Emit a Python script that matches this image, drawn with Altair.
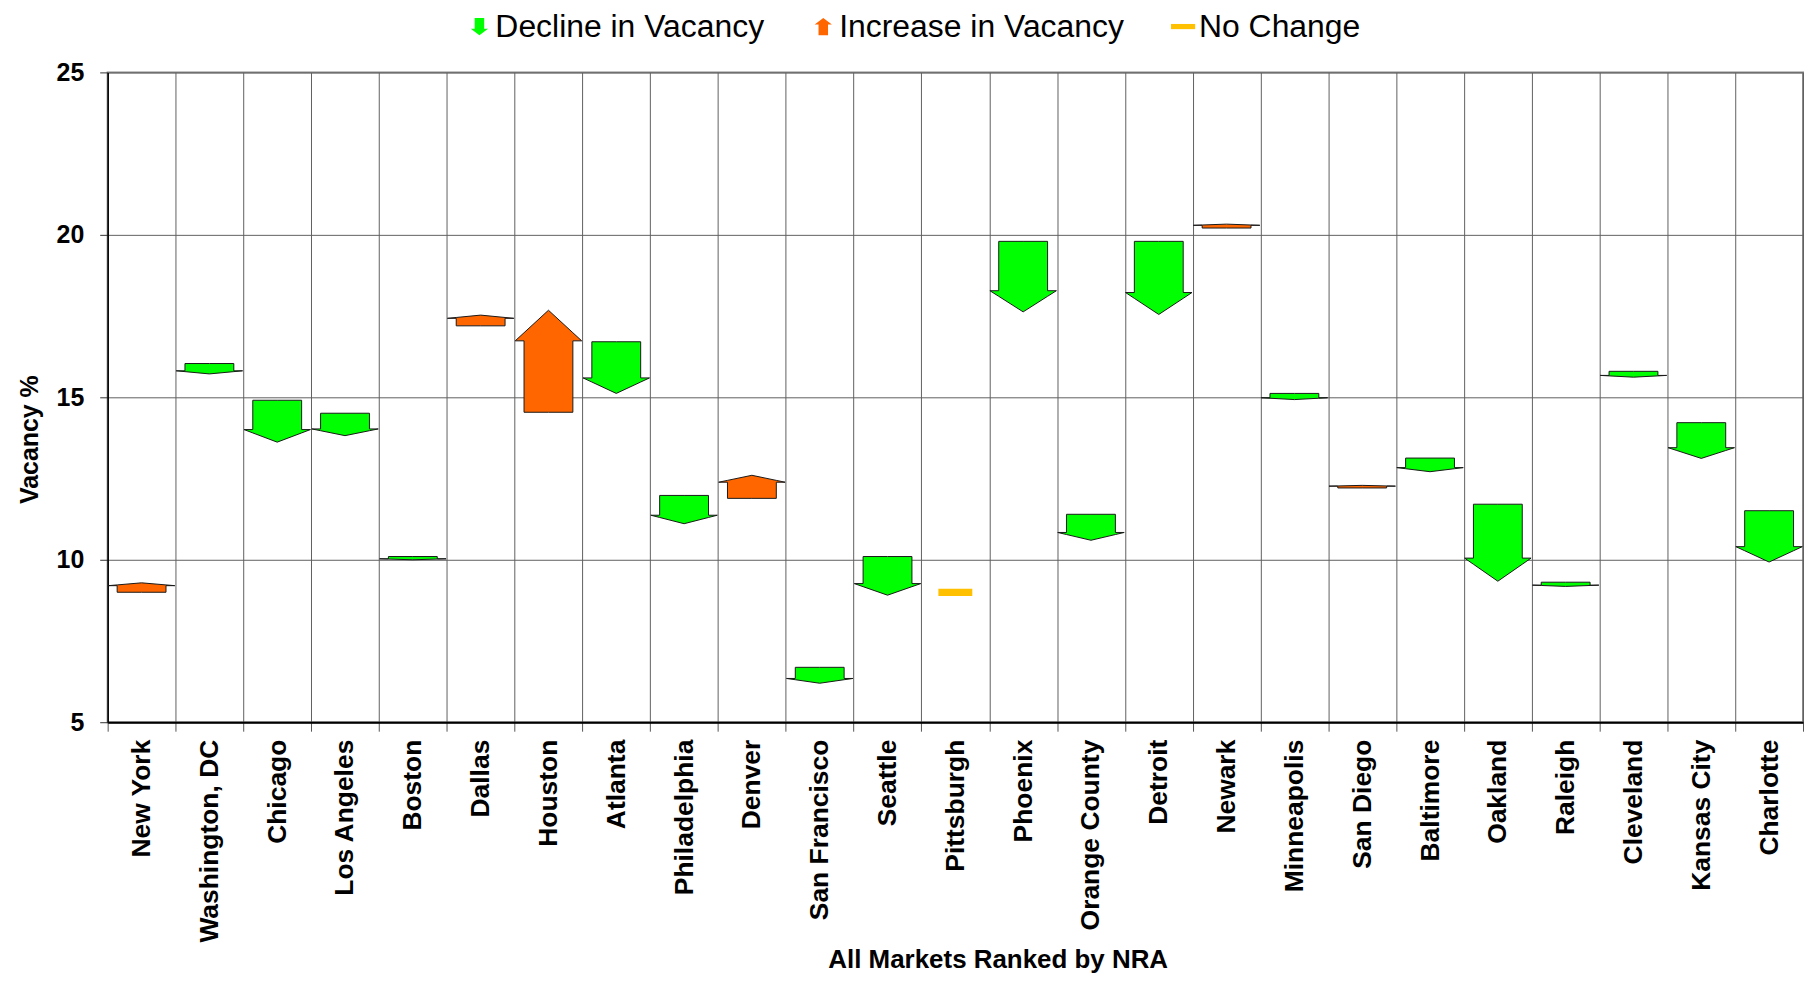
import json
import altair as alt
import pandas as pd

# ---------------- data ----------------
markets = ["New York", "Washington, DC", "Chicago", "Los Angeles", "Boston", "Dallas",
           "Houston", "Atlanta", "Philadelphia", "Denver", "San Francisco", "Seattle",
           "Pittsburgh", "Phoenix", "Orange County", "Detroit", "Newark", "Minneapolis",
           "San Diego", "Baltimore", "Oakland", "Raleigh", "Cleveland", "Kansas City",
           "Charlotte"]
vac_from = [9.00, 16.04, 14.91, 14.51, 10.10, 17.20, 14.54, 16.71, 11.98, 11.89, 6.69, 10.10,
            9.00, 19.80, 11.40, 19.80, 20.21, 15.12, 12.21, 13.13, 11.71, 9.31, 15.80, 14.22,
            11.51]
vac_to = [9.29, 15.72, 13.62, 13.82, 10.00, 17.53, 17.68, 15.12, 11.11, 12.60, 6.20, 8.91,
          9.00, 17.63, 10.60, 17.55, 20.33, 14.93, 12.29, 12.71, 9.34, 9.18, 15.62, 13.12,
          9.93]
states = ["Decline in Vacancy", "Increase in Vacancy", "No Change"]
state_colors = ["#00FF00", "#FF6600", "#FFC000"]
y_ticks = [5, 10, 15, 20, 25]

# ---------------- styling constants ----------------
FONT = "Liberation Sans"
HEAD = 0.30   # arrow head share of arrow length
HB = 0.36     # body half width (in category units)
HW = 0.49     # head half width (in category units)
EPS = 1e-4

shape_paths = [
    "M-0.55,-1H0.55V0.25H1L0,1L-1,0.25H-0.55Z",
    "M-0.55,1H0.55V-0.25H1L0,-1L-1,-0.25H-0.55Z",
    "M-1.4,-0.3H1.4V0.3H-1.4Z",
]

# ---------------- arrow polygons ----------------
rows = []
flat = []
for i, (m, s, e) in enumerate(zip(markets, vac_from, vac_to)):
    c = i + 0.5
    if s == e:
        flat.append(dict(market=m, state=states[2], cx=c, value=s))
        continue
    st = states[0] if e < s else states[1]
    wing = e + (s - e) * HEAD
    tip_at_body = e + (wing - e) * HB / HW
    pts = [(c - HW, wing, wing), (c - HB - EPS, tip_at_body, wing),
           (c - HB, tip_at_body, s), (c, e, s), (c + HB, tip_at_body, s),
           (c + HB + EPS, tip_at_body, wing), (c + HW, wing, wing)]
    for x, y, y2 in pts:
        rows.append(dict(market=m, state=st, px=x, py=y, py2=y2))
df = pd.DataFrame(rows)
df_flat = pd.DataFrame(flat)

n = len(markets)
xscale = alt.Scale(domain=[0, n], nice=False, zero=False)
yscale = alt.Scale(domain=[5, 25], nice=False, zero=False)
color_scale = alt.Scale(domain=states, range=state_colors)

y_axis = alt.Axis(values=y_ticks, grid=True, gridColor="#606060", gridWidth=1,
                  domainColor="black", domainWidth=1.5, tickColor="#333", tickSize=8,
                  labelFont=FONT, labelFontSize=25, labelFontWeight="bold", labelColor="black",
                  labelPadding=16, title="Vacancy %", titleFont=FONT, titleFontSize=25,
                  titleFontWeight="bold", titleColor="black", titleAngle=270,
                  titleX=-78, titleY=368, titleAlign="center", titleBaseline="middle")

legend = alt.Legend(orient="none", legendX=357, legendY=-62, direction="horizontal",
                    title=None, labelFont=FONT, labelFontSize=32, labelColor="black",
                    labelLimit=600, symbolSize=300, symbolStrokeWidth=0, symbolOpacity=1,
                    labelOffset=0, columnPadding=43, padding=0)

arrows = alt.Chart(df).mark_area(stroke="#1a1a1a", strokeWidth=1, opacity=1,
                                 interpolate="linear").encode(
    x=alt.X("px:Q", scale=xscale,
            axis=alt.Axis(orient="bottom", values=list(range(n + 1)), grid=True,
                          gridColor="#606060", gridWidth=1, ticks=True, tickSize=9,
                          tickColor="#555", labels=False, domain=True, domainColor="black",
                          domainWidth=2, title=None)),
    y=alt.Y("py:Q", scale=yscale, stack=None, axis=y_axis),
    y2="py2:Q",
    color=alt.Color("state:N", scale=color_scale, legend=legend),
    detail="market:N",
)

label_expr = json.dumps(markets) + "[floor(datum.value)]"

nochange = alt.Chart(df_flat).mark_point(filled=True, size=590, opacity=1,
                                         strokeWidth=0).encode(
    x=alt.X("cx:Q", scale=xscale,
            axis=alt.Axis(orient="bottom", values=[i + 0.5 for i in range(n)],
                          labelExpr=label_expr, labelAngle=-90, labelFont=FONT,
                          labelFontSize=26.5, labelFontWeight="bold", labelColor="black",
                          labelPadding=17, ticks=False, tickSize=0, grid=False, domain=False,
                          labelOverlap=False, labelFlush=False, labelLimit=400,
                          title="All Markets Ranked by NRA", titleFont=FONT, titleFontSize=26,
                          titleFontWeight="bold", titleColor="black", titleX=893, titleY=246,
                          titleAlign="center", titleBaseline="alphabetic")),
    y=alt.Y("value:Q", scale=yscale, axis=y_axis),
    color=alt.Color("state:N", scale=color_scale, legend=legend),
    shape=alt.Shape("state:N", scale=alt.Scale(domain=states, range=shape_paths),
                    legend=legend),
)

chart = alt.layer(arrows, nochange).resolve_axis(x="independent").properties(
    width=1701, height=652,
    autosize=alt.AutoSizeParams(type="none"),
    padding={"left": 100, "top": 63, "right": 1, "bottom": 251},
    background="white",
).configure_view(stroke="#888", strokeWidth=2)

chart.save("out.html", embed_options={"renderer": "svg", "actions": False})
